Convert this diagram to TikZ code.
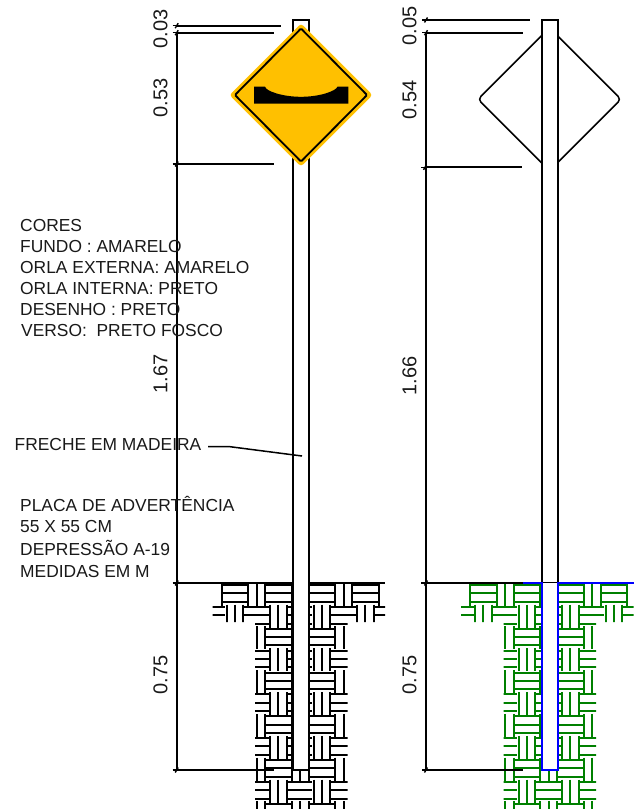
\documentclass[tikz,border=0pt]{standalone}
\usepackage{fontspec}
\setmainfont{Liberation Sans}
\definecolor{signamber}{RGB}{255,192,0}
\definecolor{soilgreen}{RGB}{0,128,0}
\definecolor{inkgray}{RGB}{25,25,25}
\newcommand{\soilhatch}[2]{%
  \begin{scope}[xshift=#1pt]
    \clip (215,583) -- (385,583) -- (385,622) -- (347.5,622) -- (347.5,809) -- (255,809) -- (255,622) -- (212.7,622) -- (212.7,606) -- (215,606) -- cycle;
    \foreach \j in {0,...,10}{
      \foreach \i in {-6,...,4}{
        \foreach \k in {0,8.3,16.7}{
          \draw[hatchline,#2] ({266+43.5*\i+21.75*\j},{585+21.875*\j+\k}) -- ++(24.5,0);
          \draw[hatchline,#2] ({248.3+43.5*\i+21.75*\j+\k},{582.7+21.875*\j}) -- ++(0,23);
        }
      }
    }
  \end{scope}}
\newcommand{\dimtick}[2]{%
  \draw[tickline] (#1-4,#2) -- (#1+3,#2);
  \draw[tickline] (#1-1.5,#2+2.5) -- (#1+1.5,#2-2.5);}
\tikzset{
  x=1pt,y=-1pt,
  hatchline/.style={line width=2pt},
  dimline/.style={line width=2pt,black},
  tickline/.style={line width=1.4pt,black},
  postline/.style={line width=2pt,black,fill=white},
  note/.style={anchor=base west,inner sep=0pt,font=\fontsize{17.4}{19}\selectfont,text=inkgray},
  dimlabel/.style={rotate=90,inner sep=0pt,font=\fontsize{20}{22}\selectfont,text=inkgray},
}
\begin{document}
\begin{tikzpicture}
\useasboundingbox (0,0) rectangle (644,809);
% soil hatching
\soilhatch{0}{black}
\soilhatch{248.5}{soilgreen}
% left post and sign
\draw[postline] (292.7,20) rectangle (309.3,770);
\draw[line width=3pt,black] (292.9,583) -- (292.9,770);
\fill[signamber,rounded corners=3pt] (301,23.5) -- (372.5,95) -- (301,166.5) -- (229.5,95) -- cycle;
\draw[line width=1.8pt,black,rounded corners=1pt] (301,28.5) -- (367,95) -- (301,161.5) -- (235,95) -- cycle;
\fill[black] (254,86.7) -- (265,86.7) .. controls (266,91) and (282,96.8) .. (301,96.8) .. controls (320,96.8) and (336,91) .. (337.5,86.7) -- (348.3,86.7) -- (348.3,103.7) -- (254,103.7) -- cycle;
% right sign and post
\draw[line width=1.5pt,black,rounded corners=4pt] (549.5,27.8) -- (621,99.3) -- (549.5,170.8) -- (478,99.3) -- cycle;
\draw[postline] (541.7,20) rectangle (558.3,583);
\fill[white] (541.7,583) rectangle (558.3,770);
% ground lines
\draw[line width=2pt,black] (173,583) -- (292.7,583);
\draw[line width=2pt,black] (309.3,583) -- (385,583);
\draw[line width=2pt,black] (421,583) -- (523,583);
\draw[line width=2pt,blue] (523,583) -- (541.7,583) -- (541.7,770) -- (558.3,770) -- (558.3,583) -- (634,583);
% left dimensions
\draw[dimline] (176.7,32.7) -- (176.7,770);
\draw[dimline] (176.7,25.7) -- (281,25.7);
\draw[dimline] (176.7,32.7) -- (273.7,32.7);
\draw[dimline] (176.7,164) -- (273.7,164);
\draw[dimline] (176.7,770) -- (273.7,770);
\dimtick{176.7}{25.7}\dimtick{176.7}{32.7}\dimtick{176.7}{164}\dimtick{176.7}{583}\dimtick{176.7}{770}
% right dimensions
\draw[dimline] (426,32.7) -- (426,770);
\draw[dimline] (426,20) -- (530,20);
\draw[dimline] (426,32.7) -- (522.7,32.7);
\draw[dimline] (426,167.3) -- (522,167.3);
\draw[dimline] (426,770) -- (522.7,770);
\dimtick{426}{20}\dimtick{426}{32.7}\dimtick{425}{167.3}\dimtick{426}{583}\dimtick{426}{770}
% leader
\coordinate (leadstart) at (208,446.7);
\coordinate (leadbend) at (230,446.7);
\coordinate (leadend) at (302,456);
\draw[line width=1.5pt,black] (leadstart) -- (leadbend) -- (leadend);
% dimension labels
\node[dimlabel] (d1) at (160.5,29) {0.03};
\node[dimlabel] (d2) at (160.5,98) {0.53};
\node[dimlabel] (d3) at (160.5,374) {1.67};
\node[dimlabel] (d4) at (160.5,675) {0.75};
\node[dimlabel] (d5) at (409.5,26) {0.05};
\node[dimlabel] (d6) at (409.5,100) {0.54};
\node[dimlabel] (d7) at (409.5,376) {1.66};
\node[dimlabel] (d8) at (409.5,675) {0.75};
% notes
\node[note] (n1) at (20,231) {CORES};
\node[note] (n2) at (20,252) {FUNDO : AMARELO};
\node[note] (n3) at (20,273) {ORLA EXTERNA: AMARELO};
\node[note] (n4) at (20,294) {ORLA INTERNA: PRETO};
\node[note] (n5) at (20,315) {DESENHO : PRETO};
\node[note] (n6) at (21,336) {VERSO:\ \ PRETO FOSCO};
\node[note] (n7) at (14.5,450) {FRECHE EM MADEIRA};
\node[note] (n8) at (20,511) {PLACA DE ADVERTÊNCIA};
\node[note] (n9) at (20,532) {55 X 55 CM};
\node[note] (n10) at (20,555) {DEPRESSÃO A-19};
\node[note] (n11) at (20,577) {MEDIDAS EM M};
\end{tikzpicture}
\end{document}
